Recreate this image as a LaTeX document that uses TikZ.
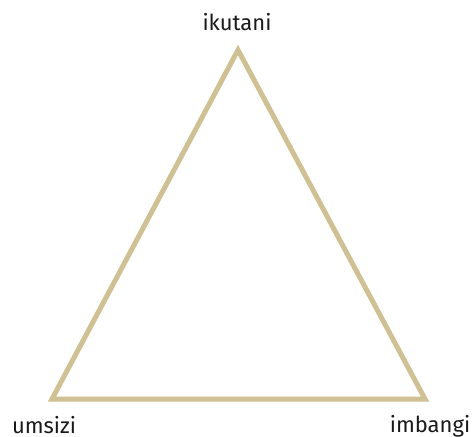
\documentclass[tikz,border=0pt]{standalone}
\usepackage{fontspec}
\setmainfont{Fira Sans}
\definecolor{tan}{RGB}{208,193,148}
\begin{document}
\begin{tikzpicture}[x=1pt,y=-1pt,
  edge/.style={draw=tan,line width=5pt,line join=miter},
  lbl/.style={font=\fontsize{22}{26}\selectfont,text=black!90,inner sep=0pt,anchor=base}]
\useasboundingbox (0,0) rectangle (475,437);
\coordinate (top) at (238,50);
\coordinate (l) at (52,399);
\coordinate (r) at (425,399);
\draw[edge] (top) -- (l) -- (r) -- cycle;
\node[lbl] (ikutani) at (237,30) {ikutani};
\node[lbl] (umsizi) at (44,433) {umsizi};
\node[lbl] (imbangi) at (430,432) {imbangi};
\end{tikzpicture}
\end{document}
